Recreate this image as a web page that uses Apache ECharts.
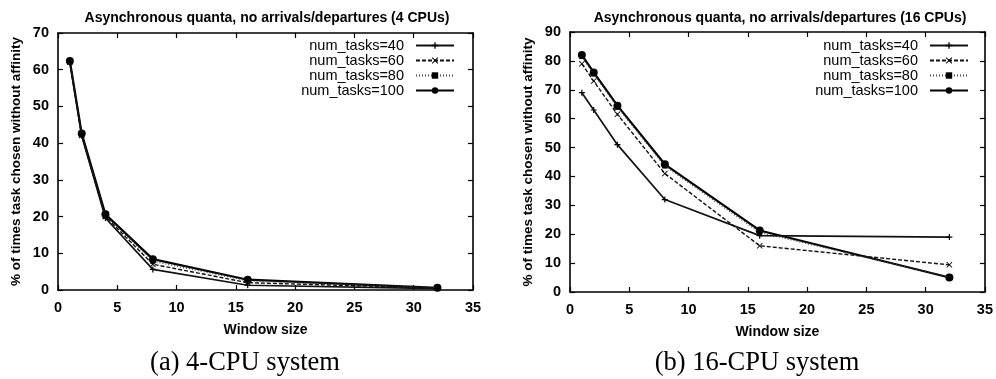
<!DOCTYPE html>
<html>
<head>
<meta charset="utf-8">
<script src="https://cdn.jsdelivr.net/npm/echarts@6/dist/echarts.min.js"></script>
<style>
  html, body { margin: 0; padding: 0; background: #fff; }
  #chart { width: 996px; height: 379px; }
</style>
</head>
<body>
<div id="chart"></div>
<script>
// window sizes (x values)
const windowSizes = [1, 2, 4, 8, 16, 32];
const taskNames = ['num_tasks=40', 'num_tasks=60', 'num_tasks=80', 'num_tasks=100'];

// (a) 4 CPUs
const cpu4_t40 = [62.0, 42.0, 19.6, 5.6, 1.3, 0.4];
const cpu4_t60 = [62.1, 42.1, 20.0, 7.0, 2.0, 0.5];
const cpu4_t80 = [62.2, 42.3, 20.3, 7.8, 2.5, 0.6];
const cpu4_t100 = [62.4, 42.6, 20.6, 8.4, 2.8, 0.6];

// (b) 16 CPUs
const cpu16_t40 = [69.0, 63.0, 51.0, 32.0, 19.5, 19.0];
const cpu16_t60 = [79.0, 73.0, 61.5, 41.0, 16.0, 9.4];
const cpu16_t80 = [81.5, 75.5, 64.0, 43.6, 20.6, 5.2];
const cpu16_t100 = [82.0, 76.0, 64.5, 44.2, 21.3, 5.0];

const xTicks = { min: 0, max: 35, interval: 5 };
const yTicksA = { min: 0, max: 70, interval: 10 };
const yTicksB = { min: 0, max: 90, interval: 10 };

const titleA = 'Asynchronous quanta, no arrivals/departures (4 CPUs)';
const titleB = 'Asynchronous quanta, no arrivals/departures (16 CPUs)';
const captionA = '(a) 4-CPU system';
const captionB = '(b) 16-CPU system';
const yName = '% of times task chosen without affinity';
const xName = 'Window size';

const sans = 'Liberation Sans';
const tickFont = { color: '#000', fontFamily: sans, fontWeight: 'bold', fontSize: 14.5 };

// gnuplot style: plus, cross, small box, filled circle
const symPlus = 'path://M4,0 L6,0 L6,4 L10,4 L10,6 L6,6 L6,10 L4,10 L4,6 L0,6 L0,4 L4,4 Z';
const symCross = 'path://M1,0 L5,4 L9,0 L10,1 L6,5 L10,9 L9,10 L5,6 L1,10 L0,9 L4,5 L0,1 Z';
const styles = [
    { symbol: symPlus, symbolSize: 6, line: { type: 'solid', width: 1.7, color: '#111' } },
    { symbol: symCross, symbolSize: 6, line: { type: [4, 2], width: 1.4, color: '#111' } },
    { symbol: 'rect', symbolSize: 5, line: { type: [1, 2], width: 1.3, color: '#444' } },
    { symbol: 'circle', symbolSize: 8, line: { type: 'solid', width: 2.2, color: '#000' } }
];

function pairs(ys) {
    return windowSizes.map((x, i) => [x, ys[i]]);
}

function makeSeries(values, gi) {
    return values.map((ys, k) => ({
        name: taskNames[k],
        type: 'line',
        xAxisIndex: gi * 2,
        yAxisIndex: gi * 2,
        data: pairs(ys),
        symbol: styles[k].symbol,
        symbolSize: styles[k].symbolSize,
        showAllSymbol: true,
        itemStyle: { color: '#000' },
        lineStyle: styles[k].line,
        silent: true,
        animation: false,
        z: 10 - k
    }));
}

const axisLineStyle = { color: '#000', width: 1.6 };
const tickStyle = { color: '#000', width: 1.2 };

function mainX(gi) {
    return {
        type: 'value', gridIndex: gi, min: xTicks.min, max: xTicks.max, interval: xTicks.interval,
        name: xName, nameLocation: 'middle', nameGap: 33,
        nameTextStyle: { color: '#000', fontFamily: sans, fontWeight: 'bold', fontSize: 14 },
        axisLine: { onZero: false, lineStyle: axisLineStyle },
        axisTick: { inside: true, length: 5, lineStyle: tickStyle },
        axisLabel: Object.assign({ margin: 10 }, tickFont),
        splitLine: { show: false }
    };
}

function mirrorX(gi) {
    return {
        type: 'value', gridIndex: gi, position: 'top', min: xTicks.min, max: xTicks.max, interval: xTicks.interval,
        axisLine: { show: true, onZero: false, lineStyle: axisLineStyle },
        axisTick: { show: true, inside: true, length: 5, lineStyle: tickStyle },
        axisLabel: { show: false },
        splitLine: { show: false }
    };
}

function mainY(gi, t, gap) {
    return {
        type: 'value', gridIndex: gi, min: t.min, max: t.max, interval: t.interval,
        name: yName, nameLocation: 'middle', nameGap: gap, nameRotate: 90,
        nameTextStyle: { color: '#000', fontFamily: sans, fontWeight: 'bold', fontSize: 13.5 },
        axisLine: { show: true, onZero: false, lineStyle: axisLineStyle },
        axisTick: { show: true, inside: true, length: 5, lineStyle: tickStyle },
        axisLabel: Object.assign({ margin: 9 }, tickFont),
        splitLine: { show: false }
    };
}

function mirrorY(gi, t) {
    return {
        type: 'value', gridIndex: gi, position: 'right', min: t.min, max: t.max, interval: t.interval,
        axisLine: { show: true, onZero: false, lineStyle: axisLineStyle },
        axisTick: { show: true, inside: true, length: 5, lineStyle: tickStyle },
        axisLabel: { show: false },
        splitLine: { show: false }
    };
}

function makeLegend(right) {
    return {
        data: taskNames,
        orient: 'vertical',
        align: 'right',
        right: right,
        top: 38,
        padding: 0,
        itemWidth: 38,
        itemHeight: 8,
        itemGap: 0,
        selectedMode: false,
        textStyle: { color: '#000', fontFamily: sans, fontSize: 14.5, padding: [0, 7, 0, 0], lineHeight: 14 }
    };
}

const myChart = echarts.init(document.getElementById('chart'), null, { renderer: 'canvas' });

const titleFont = { color: '#000', fontFamily: sans, fontWeight: 'bold', fontSize: 14 };
const captionFont = { color: '#000', fontFamily: 'Liberation Serif', fontWeight: 'normal', fontSize: 26.5 };

const option = {
    backgroundColor: '#fff',
    animation: false,
    title: [
        { text: titleA, left: 262, top: 6, textAlign: 'center', textStyle: titleFont },
        { text: titleB, left: 775, top: 6, textAlign: 'center', textStyle: titleFont },
        { text: captionA, left: 240, top: 345, textAlign: 'center', textStyle: captionFont },
        { text: captionB, left: 752, top: 345, textAlign: 'center', textStyle: captionFont }
    ],
    legend: [makeLegend(541), makeLegend(27)],
    grid: [
        { left: 58, right: 523, top: 33, bottom: 89 },
        { left: 570, right: 8, top: 32, bottom: 87 }
    ],
    xAxis: [mainX(0), mirrorX(0), mainX(1), mirrorX(1)],
    yAxis: [mainY(0, yTicksA, 35), mirrorY(0, yTicksA), mainY(1, yTicksB, 35), mirrorY(1, yTicksB)],
    series: []
        .concat(makeSeries([cpu4_t40, cpu4_t60, cpu4_t80, cpu4_t100], 0))
        .concat(makeSeries([cpu16_t40, cpu16_t60, cpu16_t80, cpu16_t100], 1))
};

myChart.setOption(option);
</script>
</body>
</html>
